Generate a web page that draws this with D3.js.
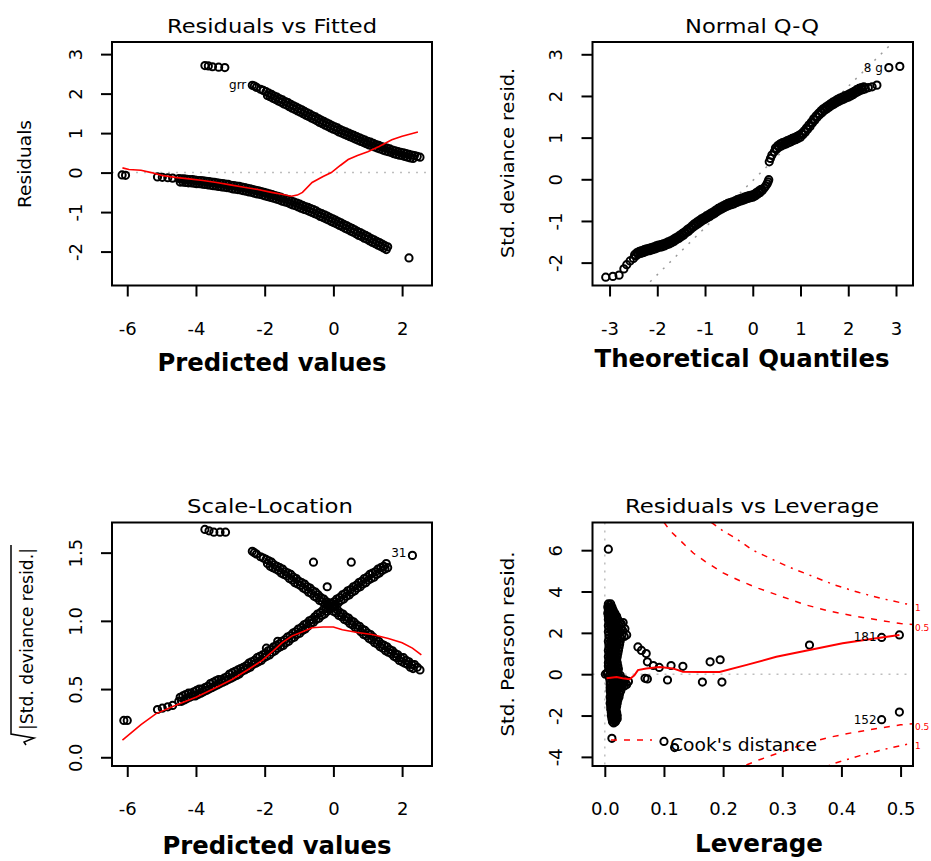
<!DOCTYPE html>
<html>
<head>
<meta charset="utf-8">
<script src="https://cdn.jsdelivr.net/npm/d3@7/dist/d3.min.js"></script>
<style>
  html, body { margin: 0; padding: 0; background: #ffffff; }
  svg { display: block; }
</style>
</head>
<body>
<svg id="fig" width="931" height="861" xmlns="http://www.w3.org/2000/svg"></svg>
<script>
// ---------- fitted values (linear predictor) ----------
const fittedY0 = [
  -4.5,-4.42,-4.34,-4.26,-4.18,-4.1,-4.02,-3.94,-3.86,-3.78,
  -3.7,-3.62,-3.54,-3.46,-3.38,-3.3,-3.22,-3.14,-3.06,-2.98,
  -2.9,-2.82,-2.74,-2.66,-2.58,-2.5,-2.42,-2.34,-2.26,-2.18,
  -2.1,-2.02,-1.94,-1.86,-1.78,-1.7,-1.62,-1.54,-1.46,-1.38,
  -1.3,-1.22,-1.14,-1.06,-0.98,-0.9,-0.82,-0.74,-0.66,-0.58,
  -0.5,-0.42,-0.34,-0.26,-0.18,-0.1,-0.02,0.06,0.14,0.22,
  0.3,0.38,0.46,0.54,0.62,0.7,0.78,0.86,0.94,1.02,
  1.1,1.18,1.26,1.34,1.42,1.5,1.58
];
const fittedY0b = [
  -4.46,-4.38,-4.3,-4.22,-4.14,-4.06,-3.98,-3.9,-3.82,-3.74,
  -3.66,-3.58,-3.5,-3.42,-3.34,-3.26,-3.18,-3.1,-3.02,-2.94,
  -2.86,-2.78,-2.7,-2.62,-2.54,-2.46,-2.38,-2.3,-2.22,-2.14,
  -2.06,-1.98,-1.9,-1.82,-1.74,-1.66,-1.58,-1.5,-1.42,-1.34,
  -1.26,-1.18,-1.1,-1.02,-0.94,-0.86,-0.78,-0.7,-0.62,-0.54,
  -0.46,-0.38,-0.3,-0.22,-0.14,-0.06,0.02,0.1,0.18,0.26,
  0.34,0.42,0.5,0.58,0.66,0.74,0.82,0.9,0.98,1.06,
  1.14,1.22,1.3,1.38,1.46,1.54
];
const fittedY1 = [
  -2.36,-2.3,-2.24,-2.12,-2.04,-1.96,-1.88,-1.8,-1.72,-1.64,
  -1.56,-1.48,-1.4,-1.32,-1.24,-1.16,-1.08,-1.0,-0.92,-0.84,
  -0.76,-0.68,-0.6,-0.52,-0.44,-0.36,-0.28,-0.2,-0.12,-0.04,
  0.04,0.12,0.2,0.28,0.36,0.44,0.52,0.6,0.68,0.76,
  0.84,0.92,1.0,1.08,1.16,1.24,1.32,1.4,1.48,1.56,
  1.64,1.72,1.8,1.88,1.96,2.04,2.12,2.2,2.28,2.36,
  2.44,2.52
];
const fittedY1b = [
  -1.92,-1.84,-1.76,-1.68,-1.6,-1.52,-1.44,-1.36,-1.28,-1.2,
  -1.12,-1.04,-0.96,-0.88,-0.8,-0.72,-0.64,-0.56,-0.48,-0.4,
  -0.32,-0.24,-0.16,-0.08,0.0,0.08,0.16,0.24,0.32,0.4,
  0.48,0.56,0.64,0.72,0.8,0.88,0.96,1.04,1.12,1.2,
  1.28,1.36,1.44,1.52,1.6,1.68,1.76,1.84,1.92,2.0,
  2.08,2.16,2.24,2.32
];
// ---------- deviance residuals ----------
const devResY0 = [
  -0.15,-0.16,-0.16,-0.17,-0.18,-0.18,-0.19,-0.20,-0.20,-0.21,
  -0.22,-0.23,-0.24,-0.25,-0.26,-0.27,-0.28,-0.29,-0.30,-0.32,
  -0.33,-0.34,-0.35,-0.37,-0.38,-0.40,-0.41,-0.43,-0.45,-0.46,
  -0.48,-0.50,-0.52,-0.54,-0.56,-0.58,-0.60,-0.62,-0.65,-0.67,
  -0.69,-0.72,-0.75,-0.77,-0.80,-0.83,-0.86,-0.88,-0.91,-0.94,
  -0.97,-1.01,-1.04,-1.07,-1.10,-1.14,-1.17,-1.20,-1.24,-1.27,
  -1.31,-1.34,-1.38,-1.41,-1.45,-1.49,-1.52,-1.56,-1.59,-1.63,
  -1.67,-1.70,-1.74,-1.77,-1.81,-1.85,-1.88
];
const devResY0b = [
  -0.24,-0.24,-0.25,-0.26,-0.26,-0.27,-0.28,-0.28,-0.29,-0.30,
  -0.31,-0.32,-0.33,-0.34,-0.35,-0.36,-0.37,-0.38,-0.39,-0.41,
  -0.42,-0.43,-0.44,-0.46,-0.47,-0.49,-0.50,-0.52,-0.54,-0.55,
  -0.57,-0.59,-0.61,-0.63,-0.65,-0.67,-0.69,-0.72,-0.74,-0.76,
  -0.79,-0.82,-0.84,-0.87,-0.90,-0.93,-0.95,-0.98,-1.01,-1.04,
  -1.07,-1.11,-1.14,-1.17,-1.20,-1.24,-1.27,-1.30,-1.34,-1.37,
  -1.41,-1.44,-1.48,-1.51,-1.55,-1.59,-1.62,-1.66,-1.69,-1.73,
  -1.77,-1.80,-1.84,-1.87,-1.91,-1.95
];
const devResY1 = [
  2.21,2.19,2.16,2.11,2.08,2.05,2.01,1.98,1.94,1.91,
  1.87,1.84,1.80,1.77,1.73,1.69,1.66,1.62,1.59,1.55,
  1.51,1.48,1.44,1.41,1.37,1.33,1.30,1.26,1.23,1.19,
  1.16,1.13,1.09,1.06,1.03,1.00,0.97,0.94,0.91,0.88,
  0.85,0.82,0.79,0.77,0.74,0.71,0.69,0.66,0.64,0.62,
  0.60,0.57,0.55,0.53,0.51,0.50,0.48,0.46,0.44,0.43,
  0.41,0.39
];
const devResY1b = [
  1.95,1.92,1.88,1.85,1.81,1.78,1.74,1.71,1.67,1.63,
  1.60,1.56,1.53,1.49,1.45,1.42,1.38,1.35,1.31,1.27,
  1.24,1.20,1.17,1.13,1.10,1.07,1.03,1.00,0.97,0.94,
  0.91,0.88,0.85,0.82,0.79,0.76,0.73,0.70,0.68,0.65,
  0.62,0.60,0.57,0.55,0.53,0.51,0.48,0.46,0.44,0.43,
  0.41,0.39,0.37,0.36
];
// ---------- sqrt(|standardized deviance residual|) ----------
const sqrtStdY0 = [
  0.41,0.41,0.42,0.43,0.44,0.45,0.45,0.46,0.47,0.48,
  0.49,0.50,0.51,0.52,0.53,0.54,0.55,0.56,0.57,0.58,
  0.59,0.60,0.61,0.63,0.64,0.65,0.66,0.68,0.69,0.70,
  0.71,0.73,0.74,0.75,0.77,0.78,0.80,0.81,0.82,0.84,
  0.85,0.87,0.88,0.90,0.91,0.93,0.94,0.96,0.98,0.99,
  1.01,1.02,1.04,1.05,1.07,1.09,1.10,1.12,1.13,1.15,
  1.16,1.18,1.19,1.21,1.22,1.24,1.25,1.27,1.28,1.30,
  1.31,1.32,1.34,1.35,1.37,1.38,1.39
];
const sqrtStdY0b = [
  0.44,0.45,0.46,0.47,0.47,0.48,0.49,0.50,0.50,0.51,
  0.52,0.54,0.55,0.56,0.57,0.57,0.58,0.59,0.61,0.62,
  0.63,0.64,0.65,0.66,0.67,0.69,0.70,0.71,0.73,0.74,
  0.75,0.76,0.78,0.79,0.81,0.82,0.83,0.85,0.86,0.88,
  0.89,0.91,0.92,0.94,0.95,0.97,0.98,1.00,1.01,1.03,
  1.05,1.06,1.08,1.09,1.11,1.13,1.14,1.16,1.17,1.19,
  1.20,1.22,1.23,1.25,1.26,1.28,1.29,1.31,1.32,1.34,
  1.35,1.36,1.38,1.39,1.40,1.42
];
const sqrtStdY1 = [
  1.51,1.50,1.49,1.47,1.46,1.45,1.44,1.43,1.41,1.40,
  1.39,1.38,1.36,1.35,1.34,1.32,1.31,1.29,1.28,1.27,
  1.25,1.24,1.22,1.21,1.19,1.17,1.16,1.14,1.13,1.11,
  1.10,1.08,1.06,1.05,1.03,1.02,1.00,0.99,0.97,0.96,
  0.94,0.93,0.91,0.90,0.88,0.86,0.85,0.83,0.82,0.81,
  0.79,0.78,0.76,0.75,0.73,0.73,0.71,0.70,0.68,0.68,
  0.66,0.64
];
const sqrtStdY1b = [
  1.42,1.40,1.39,1.38,1.37,1.35,1.34,1.33,1.31,1.30,
  1.28,1.27,1.26,1.24,1.23,1.21,1.20,1.18,1.17,1.15,
  1.14,1.12,1.11,1.09,1.07,1.06,1.04,1.03,1.01,1.00,
  0.98,0.97,0.95,0.94,0.92,0.90,0.89,0.87,0.86,0.84,
  0.83,0.81,0.80,0.78,0.77,0.76,0.74,0.73,0.71,0.70,
  0.69,0.68,0.66,0.65
];
// ---------- scattered cases ----------
const rfOtherFitted = [-6.15,-6.05,-5.12,-4.98,-4.82,-4.68,-3.74,-3.64,-3.52,-3.34,-3.16,2.2];
const rfOtherResid  = [-0.06,-0.07,-0.11,-0.12,-0.13,-0.14,2.71,2.70,2.68,2.67,2.66,-2.16];
const slOtherFitted = [-6.1,-6.0,-5.12,-4.98,-4.82,-4.68,-3.74,-3.62,-3.48,-3.3,-3.14,-0.58,0.52,-0.18,-1.62,-1.95,2.3];
const slOtherValue  = [0.27,0.27,0.35,0.36,0.37,0.38,1.67,1.66,1.65,1.65,1.65,1.43,1.43,1.25,0.85,0.80,1.48];

// ---------- normal Q-Q ----------
const qqTheoretical = [
  -3.08,-2.93,-2.8,-2.7,-2.64,-2.57,
  -2.5,-2.45,-2.4,-2.35,-2.3,-2.25,-2.2,-2.15,-2.1,-2.05,
  -2.0,-1.95,-1.9,-1.85,-1.8,-1.75,-1.7,-1.65,-1.6,-1.55,
  -1.5,-1.45,-1.4,-1.35,-1.3,-1.25,-1.2,-1.15,-1.1,-1.05,
  -1.0,-0.95,-0.9,-0.85,-0.8,-0.75,-0.7,-0.65,-0.6,-0.55,
  -0.5,-0.45,-0.4,-0.35,-0.3,-0.25,-0.2,-0.15,-0.1,-0.05,
  0.0,0.05,0.1,0.15,0.2,
  0.24,0.27,0.3,0.32,0.335,
  0.345,0.37,0.4,
  0.45,0.5,0.55,0.6,0.65,0.7,0.75,0.8,0.85,0.9,
  0.95,1.0,1.05,1.1,1.15,1.2,1.25,1.3,1.35,1.4,
  1.45,1.5,1.55,1.6,1.65,1.7,1.75,1.8,1.85,1.9,
  1.95,2.0,2.05,2.1,2.15,2.2,2.25,2.3,2.35,
  2.42,2.5,2.6,
  2.85,3.08
];
const qqSample = [
  -2.35,-2.33,-2.3,-2.15,-2.05,-1.96,
  -1.9,-1.84,-1.8,-1.78,-1.76,-1.74,-1.72,-1.71,-1.69,-1.67,
  -1.65,-1.63,-1.62,-1.6,-1.57,-1.55,-1.52,-1.49,-1.45,-1.42,
  -1.38,-1.34,-1.29,-1.25,-1.2,-1.15,-1.11,-1.07,-1.03,-0.99,
  -0.96,-0.92,-0.89,-0.85,-0.82,-0.78,-0.74,-0.71,-0.68,-0.65,
  -0.63,-0.61,-0.59,-0.56,-0.54,-0.52,-0.5,-0.48,-0.46,-0.44,
  -0.43,-0.4,-0.36,-0.32,-0.27,
  -0.21,-0.16,-0.11,-0.06,-0.01,
  0.42,0.5,0.58,
  0.66,0.72,0.77,0.8,0.83,0.85,0.88,0.9,0.93,0.95,
  0.98,1.01,1.07,1.13,1.2,1.27,1.35,1.42,1.49,1.55,
  1.6,1.65,1.69,1.73,1.77,1.8,1.84,1.87,1.9,1.92,
  1.95,1.97,2.0,2.03,2.07,2.1,2.13,2.15,2.17,
  2.2,2.22,2.26,
  2.68,2.71
];
// tied / near-tied cases in the dense stretches
const qqTheoretical2 = [
  -2.475,-2.425,-2.375,-2.325,-2.275,-2.225,-2.175,-2.125,-2.075,-2.025,
  -1.975,-1.925,-1.875,-1.825,-1.775,-1.725,-1.675,-1.625,-1.575,-1.525,
  -1.475,-1.425,-1.375,-1.325,-1.275,-1.225,-1.175,-1.125,-1.075,-1.025,
  -0.975,-0.925,-0.875,-0.825,-0.775,-0.725,-0.675,-0.625,-0.575,-0.525,
  -0.475,-0.425,-0.375,-0.325,-0.275,-0.225,-0.175,-0.125,-0.075,-0.025,
  0.025,0.075,0.125,0.175,
  0.475,0.525,0.575,0.625,0.675,0.725,0.775,0.825,0.875,0.925,
  0.975,1.025,1.075,1.125,1.175,1.225,1.275,1.325,1.375,1.425,
  1.475,1.525,1.575,1.625,1.675,1.725,1.775,1.825,1.875,1.925,
  1.975,2.025,2.075,2.125,2.175,2.225,2.275,2.325
];
const qqSample2 = [
  -1.81,-1.76,-1.73,-1.71,-1.69,-1.67,-1.66,-1.64,-1.62,-1.60,
  -1.58,-1.57,-1.55,-1.53,-1.50,-1.48,-1.45,-1.41,-1.38,-1.34,
  -1.30,-1.26,-1.21,-1.17,-1.12,-1.07,-1.03,-0.99,-0.95,-0.92,
  -0.88,-0.85,-0.81,-0.78,-0.74,-0.70,-0.67,-0.64,-0.61,-0.58,
  -0.56,-0.54,-0.52,-0.49,-0.47,-0.45,-0.43,-0.41,-0.39,-0.38,
  -0.36,-0.32,-0.28,-0.24,
  0.75,0.81,0.85,0.88,0.90,0.93,0.95,0.98,1.00,1.03,
  1.06,1.10,1.16,1.23,1.30,1.37,1.45,1.52,1.58,1.64,
  1.69,1.73,1.77,1.81,1.85,1.88,1.92,1.95,1.97,2.0,
  2.02,2.05,2.08,2.11,2.15,2.18,2.20,2.22
];
const qqLineSlope = 1.13;
const qqLineIntercept = -0.03;

// ---------- leverage and standardized Pearson residuals ----------
const leverage = [
  .006,.010, .005,.012, .006,.014,
  .005,.011,.017, .006,.013,.020, .006,.014,.022,
  .007,.016,.025,.031, .006,.015,.024, .007,.017,.027,.034,
  .006,.016,.026, .007,.018,.029,.037, .007,.017,.027,
  .006,.016,.026, .007,.016,.025, .007,.015,.024,
  .006,.015,.023, .007,.014,.022, .006,.014,.021,
  .007,.013,.020, .006,.013,.021, .006,.014,.022,
  .007,.015,.023, .005,.014,.022, .001,
  .008,.017,.026, .008,.018,.028, .009,.019,.030,.040,
  .009,.019,.029,.037, .009,.018,.028, .009,.018,.027,
  .010,.018,.025, .009,.016,.024, .010,.016,.022,
  .009,.015,.021, .010,.015,.020, .010,.016,.019,
  .011,.017,.020, .011,.016,.021, .012,.017,.021, .013,.018,
  .006,.012,.056,.062,.070,.068,.072,.082,.092,.112,.132,.178,
  .195,.072,.106,.165,.198,.346,.468,.498,.468,.498,.100,.118
];
const pearson = [
  3.40,3.40, 3.25,3.25, 3.10,3.10,
  2.95,2.95,2.95, 2.80,2.80,2.80, 2.65,2.65,2.65,
  2.50,2.50,2.50,2.50, 2.35,2.35,2.35, 2.20,2.20,2.20,2.20,
  2.05,2.05,2.05, 1.90,1.90,1.90,1.90, 1.75,1.75,1.75,
  1.60,1.60,1.60, 1.45,1.45,1.45, 1.30,1.30,1.30,
  1.15,1.15,1.15, 1.00,1.00,1.00, 0.85,0.85,0.85,
  0.70,0.70,0.70, 0.55,0.55,0.55, 0.40,0.40,0.40,
  0.25,0.25,0.25, 0.10,0.10,0.10, 0.00,
  -0.05,-0.05,-0.05, -0.20,-0.20,-0.20, -0.35,-0.35,-0.35,-0.35,
  -0.50,-0.50,-0.50,-0.50, -0.65,-0.65,-0.65, -0.80,-0.80,-0.80,
  -0.95,-0.95,-0.95, -1.10,-1.10,-1.10, -1.25,-1.25,-1.25,
  -1.40,-1.40,-1.40, -1.55,-1.55,-1.55, -1.70,-1.70,-1.70,
  -1.85,-1.85,-1.85, -2.00,-2.00,-2.00, -2.15,-2.15,-2.15, -2.30,-2.30,
  6.05,-3.10,1.32,1.15,1.00,-0.20,0.60,0.42,0.33,0.42,0.38,0.60,
  0.70,-0.23,-0.28,-0.38,-0.38,1.41,1.78,1.90,-2.20,-1.83,-3.25,-3.55
];
const leverage2 = [
  .008, .008,.012, .008,.014, .009,.016, .009,.017, .010,.019,
  .010,.019,.028, .011,.021, .011,.021,.030, .012,.023,
  .012,.022,.033, .011,.021, .011,.021, .011,.020, .010,.019,
  .010,.018, .010,.018, .010,.017, .009,.017, .010,.018,
  .010,.018, .009,.018, .004,.012,.021, .012,.022,
  .013,.023,.034, .014,.024,.033, .013,.023,.033, .013,.022,
  .013,.021, .013,.021, .012,.020, .012,.019, .012,.018,
  .012,.017, .013,.018, .013,.018, .014,.019, .015,.019, .015
];
const pearson2 = [
  3.325, 3.175,3.175, 3.025,3.025, 2.875,2.875, 2.725,2.725, 2.575,2.575,
  2.425,2.425,2.425, 2.275,2.275, 2.125,2.125,2.125, 1.975,1.975,
  1.825,1.825,1.825, 1.675,1.675, 1.525,1.525, 1.375,1.375, 1.225,1.225,
  1.075,1.075, 0.925,0.925, 0.775,0.775, 0.625,0.625, 0.475,0.475,
  0.325,0.325, 0.175,0.175, 0.025,0.025,0.025, -0.125,-0.125,
  -0.275,-0.275,-0.275, -0.425,-0.425,-0.425, -0.575,-0.575,-0.575, -0.725,-0.725,
  -0.875,-0.875, -1.025,-1.025, -1.175,-1.175, -1.325,-1.325, -1.475,-1.475,
  -1.625,-1.625, -1.775,-1.775, -1.925,-1.925, -2.075,-2.075, -2.225,-2.225, -2.36
];

// ---------- lowess smooths ----------
const rfSmoothX = [-6.14,-5.95,-5.6,-5.3,-5.0,-4.6,-4.2,-3.8,-3.4,-3.0,-2.6,-2.2,-1.8,-1.5,-1.23,-1.05,-0.9,-0.62,-0.3,-0.06,0.2,0.43,0.7,1.0,1.33,1.7,2.0,2.46];
const rfSmoothY = [0.12,0.08,0.06,0.0,-0.07,-0.12,-0.16,-0.2,-0.25,-0.31,-0.37,-0.43,-0.5,-0.55,-0.6,-0.57,-0.5,-0.25,-0.1,0.0,0.18,0.33,0.43,0.53,0.66,0.83,0.92,1.03];
const slSmoothX = [-6.14,-5.6,-5.16,-4.5,-4.0,-3.5,-2.95,-2.5,-2.07,-1.75,-1.49,-1.2,-1.0,-0.62,-0.3,0.0,0.26,0.7,1.13,1.6,2.0,2.3,2.56];
const slSmoothY = [0.125,0.24,0.32,0.39,0.44,0.5,0.57,0.64,0.71,0.78,0.84,0.89,0.91,0.95,0.955,0.955,0.935,0.915,0.9,0.87,0.84,0.8,0.75];
const rlSmoothH = [0.003,0.01,0.02,0.03,0.042,0.05,0.056,0.07,0.093,0.115,0.132,0.16,0.194,0.24,0.29,0.346,0.402,0.459,0.498];
const rlSmoothV = [-0.2,-0.17,-0.14,-0.2,-0.24,-0.05,0.2,0.28,0.35,0.28,0.12,0.11,0.11,0.45,0.84,1.17,1.5,1.74,1.9];

// ---------- Cook's distance contours (upper branch; lower branch is its mirror) ----------
const cookHalfH = [0.1,0.11,0.13,0.15,0.17,0.2,0.23,0.26,0.3,0.34,0.38,0.42,0.46,0.5,0.521];
const cookHalfV = [7.35,6.95,6.4,5.85,5.45,4.9,4.5,4.15,3.75,3.35,3.05,2.82,2.63,2.45,2.4];
const cookOneH  = [0.18,0.2,0.22,0.25,0.28,0.31,0.35,0.39,0.43,0.47,0.5,0.521];
const cookOneV  = [7.35,6.93,6.6,6.0,5.6,5.2,4.75,4.3,3.95,3.65,3.46,3.33];
const cookLevels = ["0.5", "1"];

// ---------- ticks ----------
const fittedTicks = [-6,-4,-2,0,2];
const rfYTicks = [-2,-1,0,1,2,3];
const qqXTicks = [-3,-2,-1,0,1,2,3];
const qqYTicks = [-2,-1,0,1,2,3];
const slYTicks = [0,0.5,1,1.5];
const rlXTicks = [0,0.1,0.2,0.3,0.4,0.5];
const rlYTicks = [-4,-2,0,2,4,6];

// ---------- drawing ----------
const FONT = "'DejaVu Sans', 'Liberation Sans', Arial, sans-serif";
const svg = d3.select("#fig");
svg.append("rect").attr("width", 931).attr("height", 861).attr("fill", "#fff");
const defs = svg.append("defs");
const intFmt = d => String(d);
const oneFmt = d => d.toFixed(1);
const R = 3.6;

function makePanel(id, box, xDom, yDom, xTicks, yTicks, xFmt, yFmt) {
  const x = d3.scaleLinear().domain(xDom).range([box.x0, box.x1]);
  const y = d3.scaleLinear().domain(yDom).range([box.y1, box.y0]);
  defs.append("clipPath").attr("id", "clip-" + id).append("rect")
    .attr("x", box.x0).attr("y", box.y0)
    .attr("width", box.x1 - box.x0).attr("height", box.y1 - box.y0);
  const g = svg.append("g");
  const plot = g.append("g").attr("clip-path", `url(#clip-${id})`);

  const xa = g.append("g").attr("transform", `translate(0,${box.y1})`)
    .call(d3.axisBottom(x).tickValues(xTicks).tickFormat(xFmt).tickSize(11).tickSizeOuter(0));
  xa.select(".domain").remove();
  xa.attr("font-size", 18).attr("font-family", FONT);
  xa.selectAll("line").attr("stroke", "#000").attr("stroke-width", 2);
  xa.selectAll("text").attr("y", 43).attr("dy", "0.35em").attr("fill", "#000");

  const ya = g.append("g").attr("transform", `translate(${box.x0},0)`)
    .call(d3.axisLeft(y).tickValues(yTicks).tickFormat(yFmt).tickSize(11).tickSizeOuter(0));
  ya.select(".domain").remove();
  ya.attr("font-size", 18).attr("font-family", FONT);
  ya.selectAll("line").attr("stroke", "#000").attr("stroke-width", 2);
  ya.selectAll("text").attr("x", 0).attr("dy", null)
    .attr("transform", "translate(-37,0) rotate(-90)")
    .attr("text-anchor", "middle").attr("dominant-baseline", "central").attr("fill", "#000");

  g.append("rect").attr("x", box.x0).attr("y", box.y0)
    .attr("width", box.x1 - box.x0).attr("height", box.y1 - box.y0)
    .attr("fill", "none").attr("stroke", "#000").attr("stroke-width", 2);
  return { x, y, g, plot, box };
}

function points(p, xs, ys) {
  p.plot.append("g").selectAll("circle").data(d3.range(xs.length)).join("circle")
    .attr("cx", i => p.x(xs[i])).attr("cy", i => p.y(ys[i])).attr("r", R)
    .attr("fill", "none").attr("stroke", "#000").attr("stroke-width", 2);
}
function curve(p, xs, ys, opts) {
  const line = d3.line().x(i => p.x(xs[i])).y(i => p.y(ys[i]));
  p.plot.append("path").attr("d", line(d3.range(xs.length)))
    .attr("fill", "none").attr("stroke", opts.color || "red")
    .attr("stroke-width", opts.width || 1.5)
    .attr("stroke-dasharray", opts.dash || null);
}
function title(cx, baseline, str, len) {
  svg.append("text").attr("x", cx).attr("y", baseline).attr("text-anchor", "middle")
    .attr("font-family", FONT).attr("font-size", 20)
    .attr("textLength", len).attr("lengthAdjust", "spacingAndGlyphs").text(str);
}
function xTitle(cx, baseline, str, len) {
  svg.append("text").attr("x", cx).attr("y", baseline).attr("text-anchor", "middle")
    .attr("font-family", FONT).attr("font-size", 25).attr("font-weight", "bold")
    .attr("textLength", len).attr("lengthAdjust", "spacingAndGlyphs").text(str);
}
function yTitle(cx, cy, str, len) {
  svg.append("text").attr("transform", `translate(${cx},${cy}) rotate(-90)`)
    .attr("text-anchor", "middle").attr("dominant-baseline", "central")
    .attr("font-family", FONT).attr("font-size", 18)
    .attr("textLength", len).attr("lengthAdjust", "spacingAndGlyphs").text(str);
}
function smallLabel(p, xv, yv, str, dx) {
  p.g.append("text").attr("x", p.x(xv) + dx).attr("y", p.y(yv))
    .attr("text-anchor", "end").attr("dominant-baseline", "central")
    .attr("font-family", FONT).attr("font-size", 12).text(str);
}

const colL = { x0: 112, x1: 432 }, colR = { x0: 592.5, x1: 913 };
const rowT = { y0: 42, y1: 285.5 }, rowB = { y0: 522.5, y1: 766 };

// ---- Residuals vs Fitted ----
const rf = makePanel("rf", { ...colL, ...rowT }, [-6.444, 2.87], [-2.859, 3.307],
  fittedTicks, rfYTicks, intFmt, intFmt);
rf.plot.append("line").attr("x1", rf.box.x0).attr("x2", rf.box.x1)
  .attr("y1", rf.y(0)).attr("y2", rf.y(0))
  .attr("stroke", "#bebebe").attr("stroke-width", 1.5).attr("stroke-dasharray", "2,6");
points(rf, fittedY0, devResY0);
points(rf, fittedY0b, devResY0b);
points(rf, fittedY1, devResY1);
points(rf, fittedY1b, devResY1b);
points(rf, rfOtherFitted, rfOtherResid);
curve(rf, rfSmoothX, rfSmoothY, { width: 1.6 });
smallLabel(rf, -2.36, 2.21, "grr", -6);
title(272, 33, "Residuals vs Fitted", 210);
xTitle(272, 371, "Predicted values", 229);
yTitle(24, 164, "Residuals", 88);

// ---- Normal Q-Q ----
const qq = makePanel("qq", { ...colR, ...rowT }, [-3.357, 3.356], [-2.549, 3.295],
  qqXTicks, qqYTicks, intFmt, intFmt);
{
  const xd = qq.x.domain();
  qq.plot.append("line")
    .attr("x1", qq.x(xd[0])).attr("y1", qq.y(qqLineIntercept + qqLineSlope * xd[0]))
    .attr("x2", qq.x(xd[1])).attr("y2", qq.y(qqLineIntercept + qqLineSlope * xd[1]))
    .attr("stroke", "#9a9a9a").attr("stroke-width", 1.5).attr("stroke-dasharray", "2,7");
}
points(qq, qqTheoretical, qqSample);
points(qq, qqTheoretical2, qqSample2);
smallLabel(qq, 2.85, 2.68, "8 g", -6);
title(752, 33, "Normal Q-Q", 134);
xTitle(742, 367, "Theoretical Quantiles", 295);
yTitle(507, 163, "Std. deviance resid.", 190);

// ---- Scale-Location ----
const sl = makePanel("sl", { ...colL, ...rowB }, [-6.444, 2.87], [-0.064, 1.721],
  fittedTicks, slYTicks, intFmt, oneFmt);
points(sl, fittedY0, sqrtStdY0);
points(sl, fittedY0b, sqrtStdY0b);
points(sl, fittedY1, sqrtStdY1);
points(sl, fittedY1b, sqrtStdY1b);
points(sl, slOtherFitted, slOtherValue);
curve(sl, slSmoothX, slSmoothY, { width: 1.6 });
smallLabel(sl, 2.3, 1.5, "31", -6);
title(270, 513, "Scale-Location", 166);
xTitle(277, 854, "Predicted values", 229);
{
  // y title: radical sign drawn over the absolute value
  const g = svg.append("g").attr("transform", "translate(27,645) rotate(-90)");
  g.append("text").attr("x", 6).attr("y", 6).attr("text-anchor", "middle")
    .attr("font-family", FONT).attr("font-size", 18)
    .attr("textLength", 182).attr("lengthAdjust", "spacingAndGlyphs")
    .text("|Std. deviance resid.|");
  g.append("path").attr("d", "M-100,-1 L-97,-3 L-93,7 L-89,-16 L100,-16")
    .attr("fill", "none").attr("stroke", "#000").attr("stroke-width", 1.5);
}

// ---- Residuals vs Leverage ----
const rl = makePanel("rl", { ...colR, ...rowB }, [-0.0208, 0.521], [-4.441, 7.339],
  rlXTicks, rlYTicks, oneFmt, intFmt);
rl.plot.append("line").attr("x1", rl.box.x0).attr("x2", rl.box.x1)
  .attr("y1", rl.y(0)).attr("y2", rl.y(0))
  .attr("stroke", "#bebebe").attr("stroke-width", 1.5).attr("stroke-dasharray", "2,6");
rl.plot.append("line").attr("x1", rl.x(0)).attr("x2", rl.x(0))
  .attr("y1", rl.box.y0).attr("y2", rl.box.y1)
  .attr("stroke", "#bebebe").attr("stroke-width", 1.5).attr("stroke-dasharray", "2,6");
points(rl, leverage, pearson);
points(rl, leverage2, pearson2);
curve(rl, rlSmoothH, rlSmoothV, { width: 2 });
curve(rl, cookHalfH, cookHalfV, { dash: "6,7" });
curve(rl, cookHalfH, cookHalfV.map(v => -v), { dash: "6,7" });
curve(rl, cookOneH, cookOneV, { dash: "6,6,2,6" });
curve(rl, cookOneH, cookOneV.map(v => -v), { dash: "6,6,2,6" });
[[cookHalfV, cookLevels[0]], [cookOneV, cookLevels[1]]].forEach(([vals, lab]) => {
  const v = vals[vals.length - 1];
  [v, -v].forEach(val => {
    svg.append("text").attr("x", 915).attr("y", rl.y(val) + 3)
      .attr("dominant-baseline", "central").attr("font-family", FONT)
      .attr("font-size", 9).attr("fill", "red").text(lab);
  });
});
smallLabel(rl, 0.468, 1.78, "181", -5);
smallLabel(rl, 0.468, -2.2, "152", -5);
// legend
rl.g.append("line").attr("x1", 611).attr("x2", 652).attr("y1", 740).attr("y2", 740)
  .attr("stroke", "red").attr("stroke-width", 1.5).attr("stroke-dasharray", "6,7");
rl.g.append("text").attr("x", 670).attr("y", 745).attr("dominant-baseline", "central")
  .attr("font-family", FONT).attr("font-size", 17)
  .attr("textLength", 147).attr("lengthAdjust", "spacingAndGlyphs").text("Cook's distance");
title(752, 513, "Residuals vs Leverage", 254);
xTitle(759, 852, "Leverage", 128);
yTitle(507, 644, "Std. Pearson resid.", 185);
</script>
</body>
</html>
